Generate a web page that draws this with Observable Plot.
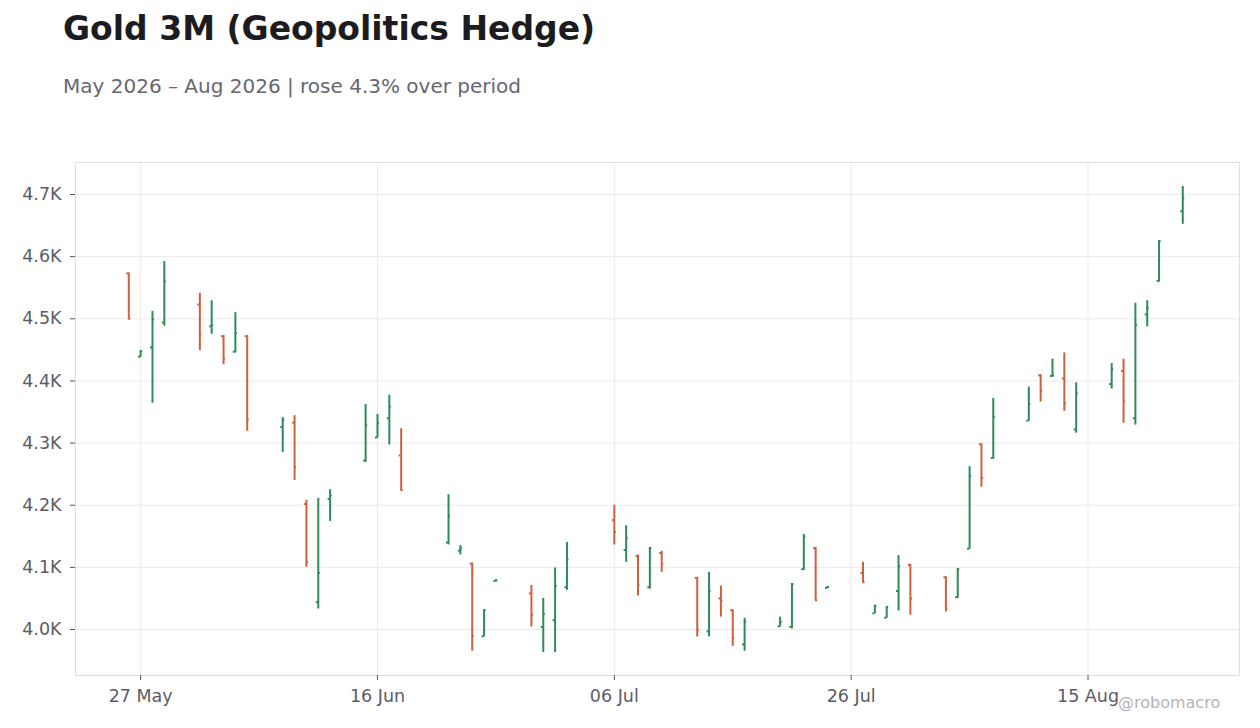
<!DOCTYPE html>
<html>
<head>
<meta charset="utf-8">
<script src="https://cdn.jsdelivr.net/npm/d3@7"></script>
<script src="https://cdn.jsdelivr.net/npm/@observablehq/plot@0.6"></script>
<style>
  html, body { margin: 0; padding: 0; background: #fff; }
  #page { position: relative; width: 1260px; height: 728px; overflow: hidden; font-family: "DejaVu Sans", sans-serif; }
  #header { position: relative; height: 120px; }
  #title { position: absolute; left: 63px; top: 12px; font-size: 33px; font-weight: bold; line-height: 1; color: #1c1c20; white-space: nowrap; }
  #subtitle { position: absolute; left: 63px; top: 76px; font-size: 20px; line-height: 1; color: #666770; white-space: nowrap; }
  #credit { position: absolute; left: 1118px; top: 695px; font-size: 16px; line-height: 1; color: #b4b4b8; white-space: nowrap; }
</style>
</head>
<body>
<div id="page">
  <div id="header">
    <div id="title">Gold 3M (Geopolitics Hedge)</div>
    <div id="subtitle">May 2026 – Aug 2026 | rose 4.3% over period</div>
  </div>
  <div id="chart"></div>
  <div id="credit">@robomacro</div>
</div>
<script>
const dates = [
  "2026-05-26","2026-05-27","2026-05-28","2026-05-29",
  "2026-06-01","2026-06-02","2026-06-03","2026-06-04","2026-06-05",
  "2026-06-08","2026-06-09","2026-06-10","2026-06-11","2026-06-12",
  "2026-06-15","2026-06-16","2026-06-17","2026-06-18",
  "2026-06-22","2026-06-23","2026-06-24","2026-06-25","2026-06-26",
  "2026-06-29","2026-06-30","2026-07-01","2026-07-02",
  "2026-07-06","2026-07-07","2026-07-08","2026-07-09","2026-07-10",
  "2026-07-13","2026-07-14","2026-07-15","2026-07-16","2026-07-17",
  "2026-07-20","2026-07-21","2026-07-22","2026-07-23","2026-07-24",
  "2026-07-27","2026-07-28","2026-07-29","2026-07-30","2026-07-31",
  "2026-08-03","2026-08-04","2026-08-05","2026-08-06","2026-08-07",
  "2026-08-10","2026-08-11","2026-08-12","2026-08-13","2026-08-14",
  "2026-08-17","2026-08-18","2026-08-19","2026-08-20","2026-08-21",
  "2026-08-23"
];
const opens = [
  4573,4439,4454,4494,
  4523,4488,4472,4447,4472,
  4326,4333,4202,4044,4210,
  4272,4309,4340,4280,
  4140,4127,4106,3989,4078,
  4058,4004,4015,4068,
  4176,4128,4118,4068,4123,
  4083,3997,4050,4031,3976,
  4005,4004,4097,4131,4067,
  4091,4026,4019,4062,4104,
  4084,4052,4130,4298,4276,
  4336,4409,4408,4404,4322,
  4395,4416,4340,4507,4561,
  4673
];
const highs = [
  4574,4449,4512,4592,
  4541,4529,4473,4510,4473,
  4341,4344,4208,4211,4225,
  4362,4346,4377,4323,
  4217,4135,4107,4032,4080,
  4071,4050,4099,4140,
  4200,4167,4120,4132,4126,
  4084,4092,4070,4032,4018,
  4020,4074,4153,4132,4069,
  4108,4039,4037,4119,4105,
  4085,4098,4262,4299,4372,
  4390,4410,4435,4445,4397,
  4428,4435,4525,4529,4626,
  4713
];
const lows = [
  4499,4438,4364,4488,
  4449,4475,4426,4445,4319,
  4285,4240,4100,4033,4174,
  4269,4308,4297,4223,
  4136,4120,3965,3988,4077,
  4004,3963,3963,4063,
  4136,4108,4054,4065,4092,
  3988,3988,4020,3973,3965,
  4004,4001,4095,4046,4066,
  4075,4025,4018,4030,4023,
  4028,4050,4129,4229,4274,
  4335,4366,4406,4351,4316,
  4387,4332,4329,4487,4559,
  4652
];
const closes = [
  4500,4448,4499,4560,
  4475,4490,4436,4477,4338,
  4337,4261,4109,4091,4216,
  4329,4332,4359,4224,
  4182,4131,3990,4031,4079,
  4023,4025,4070,4113,
  4157,4147,4071,4131,4105,
  3999,4062,4046,3986,4013,
  4012,4073,4149,4047,4068,
  4076,4038,4036,4102,4050,
  4034,4097,4247,4244,4342,
  4363,4384,4409,4364,4380,
  4419,4367,4490,4517,4625,
  4694
];
const xTickDates = ["2026-05-27","2026-06-16","2026-07-06","2026-07-26","2026-08-15"];
const yTickValues = [4000,4100,4200,4300,4400,4500,4600,4700];
const xDomain = ["2026-05-21T12:00:00Z","2026-08-27T19:00:00Z"];
const yDomain = [3926, 4751.5];

const UP = "#2e8b57", DOWN = "#cc6140";
const DAY = 86400000;
const TICK = 0.17 * DAY;

const data = dates.map((d, i) => ({
  date: new Date(d + "T00:00:00Z"),
  open: opens[i], high: highs[i], low: lows[i], close: closes[i],
  dir: closes[i] >= opens[i] ? "up" : "down"
}));
const xTicks = xTickDates.map(d => new Date(d + "T00:00:00Z"));

const chart = Plot.plot({
  width: 1260,
  height: 608,
  marginTop: 42,
  marginBottom: 53,
  marginLeft: 75,
  marginRight: 21,
  style: { fontFamily: "DejaVu Sans, sans-serif", fontSize: "17.5px", background: "#fff", overflow: "visible" },
  x: { type: "utc", domain: xDomain.map(d => new Date(d)) },
  y: { domain: yDomain },
  color: { domain: ["up", "down"], range: [UP, DOWN] },
  marks: [
    Plot.gridX(xTicks, { stroke: "#ebebeb", strokeOpacity: 1 }),
    Plot.gridY(yTickValues, { stroke: "#ebebeb", strokeOpacity: 1 }),
    Plot.frame({ stroke: "#dedede" }),
    Plot.axisX({ ticks: xTicks, tickFormat: d3.utcFormat("%d %b"), tickSize: 5, tickPadding: 9, label: null, stroke: "#555", fill: "#5c5c66" }),
    Plot.axisY({ ticks: yTickValues, tickFormat: d => (d / 1000).toFixed(1) + "K", tickSize: 5, tickPadding: 9, label: null, stroke: "#555", fill: "#5c5c66" }),
    Plot.ruleX(data, { x: "date", y1: "low", y2: "high", stroke: "dir", strokeWidth: 2 }),
    Plot.ruleY(data, { y: "open", x1: d => new Date(+d.date - TICK), x2: "date", stroke: "dir", strokeWidth: 2 }),
    Plot.ruleY(data, { y: "close", x1: "date", x2: d => new Date(+d.date + TICK), stroke: "dir", strokeWidth: 2 })
  ]
});
document.getElementById("chart").appendChild(chart);
</script>
</body>
</html>
